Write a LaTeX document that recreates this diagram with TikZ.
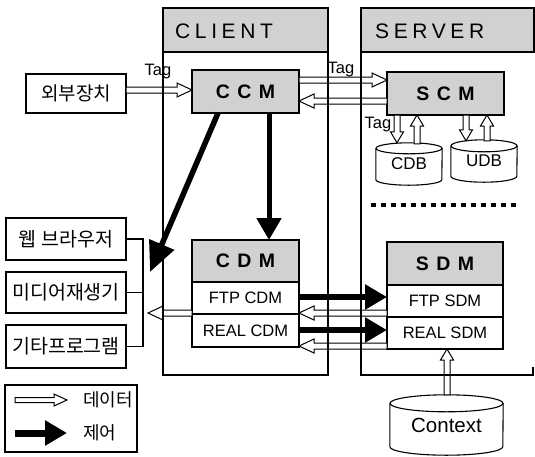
\documentclass[tikz,border=0pt]{standalone}
\usepackage{fontspec}
\setmainfont{Liberation Sans}
\newfontfamily\kr{Noto Sans CJK KR}
\newfontfamily\hdrfont[LetterSpace=22]{Liberation Sans}
\newfontfamily\modfont[LetterSpace=38]{Liberation Sans}
\usetikzlibrary{arrows.meta,calc}
\newcommand\dbcyl[3]{%
  \draw[line width=1.1pt] ([yshift=-#3]#1.north) ellipse [x radius=#2, y radius=#3];
  \draw[line width=1.1pt] ([yshift=-#3]#1.north west) -- ([yshift=#3]#1.south west)
    arc[start angle=180, end angle=360, x radius=#2, y radius=#3] -- ([yshift=-#3]#1.north east);
}
\tikzset{
  hshaft/.store in=\hshaft, hhead/.store in=\hhead, hlen/.store in=\hlen,
  hshaft=3pt, hhead=7pt, hlen=15pt,
  hollow/.style={draw, line width=1pt, fill=white, line join=miter,
    to path={let \p1=(\tikztostart), \p2=(\tikztotarget), \n1={atan2(\y2-\y1,\x2-\x1)} in
      ($(\p1)+({\n1+90}:\hshaft)$)
      -- ($(\p2)+({\n1+180}:\hlen)+({\n1+90}:\hshaft)$)
      -- ($(\p2)+({\n1+180}:\hlen)+({\n1+90}:\hhead)$)
      -- (\p2)
      -- ($(\p2)+({\n1+180}:\hlen)+({\n1-90}:\hhead)$)
      -- ($(\p2)+({\n1+180}:\hlen)+({\n1-90}:\hshaft)$)
      -- ($(\p1)+({\n1-90}:\hshaft)$) -- cycle}},
  vhollow/.style={hollow, hshaft=3pt, hhead=6.5pt, hlen=11pt},
  ctrl/.style={line width=5.5pt, -{Triangle[length=22pt,width=24pt]}},
  box/.style={draw, line width=1.1pt, rectangle, inner sep=0pt, outer sep=0pt},
  kbox/.style={box, font=\kr\fontsize{19.5}{22}\selectfont},
  hdr/.style={box, fill=black!18},
  modhdr/.style={box, fill=black!18, font=\modfont\bfseries\fontsize{19.5}{22}\selectfont},
  row/.style={box, fill=white, font=\fontsize{16.5}{19}\selectfont},
  hdrtxt/.style={anchor=west, inner sep=0pt, font=\hdrfont\fontsize{21}{24}\selectfont},
  tagtxt/.style={inner sep=0pt, font=\fontsize{16.5}{19}\selectfont},
  frame/.style={line width=1.3pt},
}
\begin{document}
\begin{tikzpicture}[x=1pt,y=1pt]
\useasboundingbox (0,0) rectangle (535,-456);

% headers
\node[hdr, minimum width=165pt, minimum height=44pt] (clienthdr) at (245.5,-30) {};
\node[hdrtxt] (clienttxt) at (175,-31) {CLIENT};
\node[hdr, minimum width=173pt, minimum height=44pt] (serverhdr) at (447.5,-30) {};
\node[hdrtxt] (servertxt) at (375,-31) {SERVER};

% left boxes
\node[kbox, font=\kr\fontsize{19}{22}\selectfont, minimum width=100pt, minimum height=39pt] (ext) at (76,-93.5) {외부장치};
\node[kbox, minimum width=120pt, minimum height=42pt] (web) at (66,-239) {웹 브라우저};
\node[kbox, minimum width=120pt, minimum height=41pt] (media) at (66,-292.5) {미디어재생기};
\node[kbox, minimum width=120pt, minimum height=43pt] (etc) at (66,-346.5) {기타프로그램};
\node[box, minimum width=132pt, minimum height=67pt] (legend) at (71,-418.5) {};

% modules
\node[modhdr, minimum width=107pt, minimum height=43pt] (ccm) at (245.5,-91.5) {CCM};
\node[modhdr, minimum width=117pt, minimum height=43pt] (scm) at (445.5,-93.5) {SCM};
\node[modhdr, minimum width=107pt, minimum height=42pt] (cdm) at (245.5,-261) {CDM};
\node[row, minimum width=107pt, minimum height=32pt] (ftpcdm) at (245.5,-298) {FTP CDM};
\node[row, minimum width=107pt, minimum height=33pt] (realcdm) at (245.5,-330.5) {REAL CDM};
\node[modhdr, minimum width=116pt, minimum height=43pt] (sdm) at (445,-263.5) {SDM};
\node[row, minimum width=116pt, minimum height=32pt] (ftpsdm) at (445,-301) {FTP SDM};
\node[row, minimum width=116pt, minimum height=32pt] (realsdm) at (445,-333) {REAL SDM};

% databases
\node[inner sep=0pt, minimum width=66pt, minimum height=42pt, font=\fontsize{17}{19}\selectfont] (cdb) at (409,-164) {\raisebox{-3pt}{CDB}};
\dbcyl{cdb}{33pt}{5.5pt}
\node[inner sep=0pt, minimum width=66pt, minimum height=42pt, font=\fontsize{17}{19}\selectfont] (udb) at (484,-161) {\raisebox{-3pt}{UDB}};
\dbcyl{udb}{33pt}{6pt}
\node[inner sep=0pt, minimum width=113pt, minimum height=60pt, font=\fontsize{20.5}{24}\selectfont] (ctx) at (446.5,-425) {\raisebox{-3pt}{Context}};
\dbcyl{ctx}{56.5pt}{8.5pt}

% tag labels
\node[tagtxt] (tag1) at (158,-72) {Tag};
\node[tagtxt] (tag2) at (341,-70) {Tag};
\node[tagtxt] (tag3) at (378,-125) {Tag};

% bracket
\draw[line width=1.1pt] (web.east) -- ++(17pt,0) coordinate (brtop) |- (etc.east);
\draw[line width=1.1pt] (media.east) -- (media.east -| brtop);

% hollow (data) arrows
\draw[hollow] ([yshift=3.5pt]ext.east) to ([yshift=1.5pt]ccm.west);
\draw[hollow] ([yshift=11.5pt]ccm.east) to ([yshift=13.5pt]scm.west);
\draw[hollow] ([yshift=-7.5pt]scm.west) to ([yshift=-9.5pt]ccm.east);
\draw[vhollow] ([xshift=-48.5pt]scm.south) to ([xshift=-12pt]cdb.north);
\draw[vhollow] ([xshift=8pt,yshift=-1pt]cdb.north) to ([xshift=-28.5pt]scm.south);
\draw[vhollow] ([xshift=20.5pt]scm.south) to ([xshift=-18pt,yshift=-1pt]udb.north);
\draw[vhollow] ([xshift=3pt,yshift=-1pt]udb.north) to ([xshift=41.5pt]scm.south);
\draw[vhollow] ([xshift=0.5pt]ctx.north) to ([xshift=2pt]realsdm.south);
\coordinate (cdmtip) at (148,-313);
\draw[hollow] ([yshift=1pt]ftpcdm.south west) to (cdmtip);
\draw[hollow] ([yshift=4pt]ftpsdm.south west) to ([yshift=1pt]ftpcdm.south east);
\draw[hollow] ([yshift=3pt]realsdm.south west) to ([yshift=1pt]realcdm.south east);

% control arrows
\coordinate (diagtip) at (150,-272);
\draw[ctrl, -{Triangle[length=30pt,width=26pt]}] ([xshift=-27.5pt]ccm.south) -- (diagtip);
\draw[ctrl, line width=5pt] ([xshift=23.5pt]ccm.south) -- ([xshift=23.5pt]cdm.north);
\draw[ctrl] ([yshift=1pt]ftpcdm.east) -- ([yshift=4pt]ftpsdm.west);
\draw[ctrl] ([yshift=0.5pt]realcdm.east) -- ([yshift=3pt]realsdm.west);

% dotted separator
\coordinate (dot1) at (371,-205);
\coordinate (dot2) at (517,-205);
\draw[line width=4.5pt, dash pattern=on 5pt off 5pt] (dot1) -- (dot2);

% legend
\coordinate (lg1s) at (15,-400);
\coordinate (lg1e) at (67,-400);
\coordinate (lg2s) at (15,-433);
\coordinate (lg2e) at (67,-433);
\draw[hollow, hshaft=2.5pt, hhead=6pt, hlen=13pt] (lg1s) to (lg1e);
\draw[line width=7pt, -{Triangle[length=22pt,width=24pt]}] (lg2s) -- (lg2e);
\node[anchor=west, inner sep=0pt, font=\kr\fontsize{18}{21}\selectfont] (lgdata) at (83,-400) {데이터};
\node[anchor=west, inner sep=0pt, font=\kr\fontsize{18}{21}\selectfont] (lgctrl) at (83,-433) {제어};

% frames on top
\coordinate (clientbr) at (328,-375);
\draw[frame] (clienthdr.north west) rectangle (clientbr);
\coordinate (serverbl) at (361,-375);
\coordinate (serverbr) at (533,-375);
\draw[frame] (serverhdr.south west) -- (serverbl) -- (serverbr) -- ++(0,8);
\end{tikzpicture}
\end{document}
